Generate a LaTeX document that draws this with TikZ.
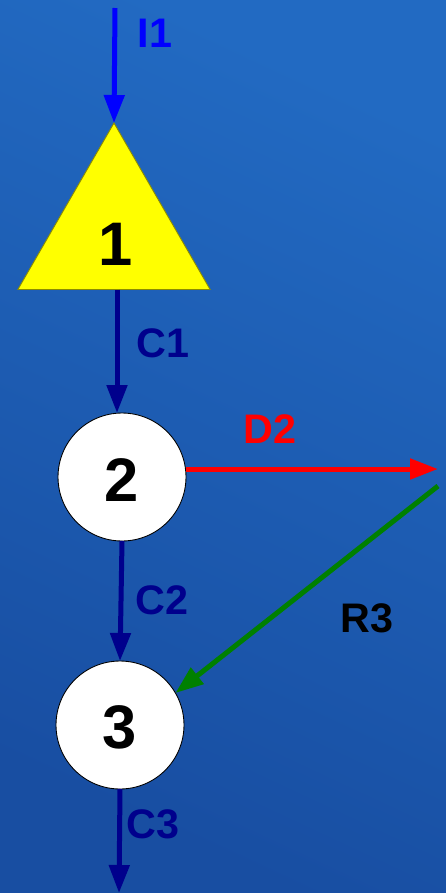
\documentclass[tikz,border=0pt]{standalone}
\usepackage{fontspec}
\setmainfont{Liberation Sans}
\usetikzlibrary{arrows.meta,shapes.geometric}

\definecolor{bgtop}{RGB}{34,106,194}
\definecolor{bgbot}{RGB}{24,78,162}
\definecolor{inblue}{RGB}{0,0,255}
\definecolor{cnavy}{RGB}{0,0,140}
\definecolor{dred}{RGB}{255,0,0}
\definecolor{rgreen}{RGB}{0,128,0}
\definecolor{nyellow}{RGB}{255,255,0}

\begin{document}
\begin{tikzpicture}[x=.02cm,y=-.02cm,
flow/.style={line width=.1cm,-{Triangle[length=.56cm,width=.4cm]}},
num/.style={font=\fontsize{35}{35}\selectfont\bfseries},
lab/.style={font=\fontsize{23.5}{24}\selectfont\bfseries},
stock/.style={circle,draw=black,line width=.5pt,fill=white,minimum size=2.56cm,inner sep=0pt,outer sep=0pt}]

\useasboundingbox (0,0) rectangle (446,893);
\shade[top color=bgtop,bottom color=bgbot,shading angle=-25] (0,0) rectangle (446,893);

% Nodes
\node[regular polygon,regular polygon sides=3,minimum size=4.44cm,inner sep=0pt,outer sep=0pt,
fill=nyellow,draw=nyellow!55!black,line width=.5pt] (t1) at (114,234) {};
\node[num] (l1) at (116,244) {1};
\node[stock] (n2) at (122,477) {};
\node[num] (l2) at (122,480) {2};
\node[stock] (n3) at (120,725) {};
\node[num] (l3) at (120,727) {3};

\coordinate (i1) at (115,8);
\coordinate (d2) at (438,469);
\coordinate (r3) at (438,486);
\coordinate (c3) at (119,893);

% Flows
\draw[flow,inblue] (i1) -- (t1.corner 1);
\draw[flow,cnavy] (t1.south -| 117,0) -- (117,413);
\draw[flow,dred] (n2.east |- d2) -- (d2);
\draw[flow,rgreen] (r3) -- (n3.30);
\draw[flow,cnavy] (n2.south) -- (n3.north);
\draw[flow,cnavy] (n3.south) -- (c3);

% Labels
\node[lab,inblue] (li1) at (155,33) {I1};
\node[lab,cnavy] (lc1) at (163,343) {C1};
\node[lab,dred] (ld2) at (270,429) {D2};
\node[lab,black] (lr3) at (367,618) {R3};
\node[lab,cnavy] (lc2) at (162,600) {C2};
\node[lab,cnavy] (lc3) at (153,824) {C3};

\end{tikzpicture}
\end{document}
